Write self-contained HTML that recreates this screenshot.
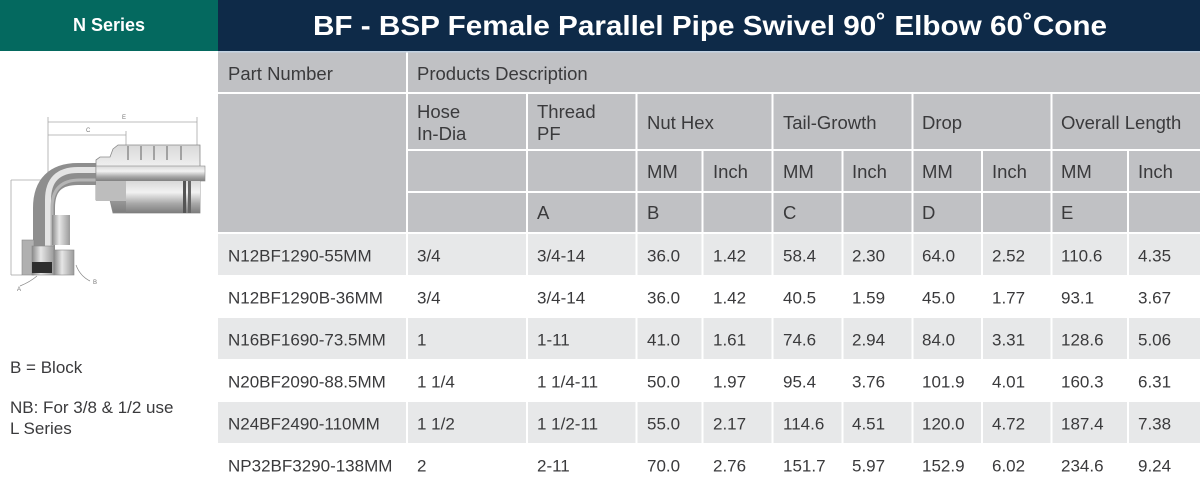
<!DOCTYPE html>
<html>
<head>
<meta charset="utf-8">
<style>
  html,body{margin:0;padding:0;background:#fff;}
  body{width:1200px;height:488px;overflow:hidden;}
  svg{display:block;}
  .h{font-family:"Liberation Sans",sans-serif;font-size:18.5px;fill:#3a3a3c;}
  .d{font-family:"Liberation Sans",sans-serif;font-size:17px;fill:#3a3a3c;}
  .n{font-family:"Liberation Sans",sans-serif;font-size:17px;fill:#3a3a3c;}
</style>
</head>
<body>
<svg width="1200" height="488" viewBox="0 0 1200 488" xmlns="http://www.w3.org/2000/svg">
  <defs>
    <linearGradient id="mv" x1="0" y1="0" x2="0" y2="1">
      <stop offset="0" stop-color="#d9d9d9"/>
      <stop offset="0.35" stop-color="#f2f2f2"/>
      <stop offset="0.7" stop-color="#a9a9a9"/>
      <stop offset="1" stop-color="#7d7d7d"/>
    </linearGradient>
    <linearGradient id="mh" x1="0" y1="0" x2="1" y2="0">
      <stop offset="0" stop-color="#8a8a8a"/>
      <stop offset="0.4" stop-color="#e6e6e6"/>
      <stop offset="1" stop-color="#9a9a9a"/>
    </linearGradient>
  </defs>

  <!-- top bands -->
  <rect x="0" y="0" width="218" height="51" fill="#04695f"/>
  <rect x="218" y="0" width="982" height="51" fill="#0e2a48"/>
  <rect x="218" y="51" width="982" height="1.5" fill="#c4d3e2"/>
  <text x="109" y="31" text-anchor="middle" font-family="Liberation Sans, sans-serif" font-weight="bold" font-size="18px" fill="#ffffff">N Series</text>
  <text x="313" y="35" textLength="794" lengthAdjust="spacingAndGlyphs" font-family="Liberation Sans, sans-serif" font-weight="bold" font-size="28px" fill="#ffffff">BF - BSP Female Parallel Pipe Swivel 90˚ Elbow 60˚Cone</text>

  <!-- header gray -->
  <rect x="218" y="52.5" width="982" height="180.5" fill="#c0c1c4"/>
  <!-- data gray rows -->
  <rect x="218" y="234" width="982" height="41" fill="#e7e8e9"/>
  <rect x="218" y="318" width="982" height="41" fill="#e7e8e9"/>
  <rect x="218" y="402" width="982" height="41" fill="#e7e8e9"/>

  <!-- grid white lines -->
  <g fill="#ffffff">
    <rect x="218" y="92" width="982" height="2"/>
    <rect x="407" y="149" width="793" height="2"/>
    <rect x="407" y="191" width="793" height="2"/>
    <rect x="218" y="232" width="982" height="2"/>
    <rect x="406" y="52.5" width="2" height="436"/>
    <rect x="526" y="93" width="2" height="395"/>
    <rect x="635.5" y="93" width="2" height="395"/>
    <rect x="771.5" y="93" width="2" height="395"/>
    <rect x="911.5" y="93" width="2" height="395"/>
    <rect x="1050.5" y="93" width="2" height="395"/>
    <rect x="701.5" y="150" width="2" height="338"/>
    <rect x="841.5" y="150" width="2" height="338"/>
    <rect x="981" y="150" width="2" height="338"/>
    <rect x="1127" y="150" width="2" height="338"/>
  </g>

  <!-- header text -->
  <text class="h" x="228" y="80">Part Number</text>
  <text class="h" x="417" y="80">Products Description</text>
  <text class="h" x="417" y="118">Hose</text>
  <text class="h" x="417" y="140">In-Dia</text>
  <text class="h" x="537" y="118">Thread</text>
  <text class="h" x="537" y="140">PF</text>
  <text class="h" x="647" y="129">Nut Hex</text>
  <text class="h" x="783" y="129">Tail-Growth</text>
  <text class="h" x="922" y="129">Drop</text>
  <text class="h" x="1061" y="129">Overall Length</text>
  <text class="h" x="647" y="178">MM</text>
  <text class="h" x="713" y="178">Inch</text>
  <text class="h" x="783" y="178">MM</text>
  <text class="h" x="852" y="178">Inch</text>
  <text class="h" x="922" y="178">MM</text>
  <text class="h" x="992" y="178">Inch</text>
  <text class="h" x="1061" y="178">MM</text>
  <text class="h" x="1138" y="178">Inch</text>
  <text class="h" x="537" y="219">A</text>
  <text class="h" x="647" y="219">B</text>
  <text class="h" x="783" y="219">C</text>
  <text class="h" x="922" y="219">D</text>
  <text class="h" x="1061" y="219">E</text>

  <!-- data rows -->
  <g class="d">
    <text class="d" x="228" y="261.5">N12BF1290-55MM</text>
    <text class="d" x="417" y="261.5">3/4</text>
    <text class="d" x="537" y="261.5">3/4-14</text>
    <text class="d" x="647" y="261.5">36.0</text>
    <text class="d" x="713" y="261.5">1.42</text>
    <text class="d" x="783" y="261.5">58.4</text>
    <text class="d" x="852" y="261.5">2.30</text>
    <text class="d" x="922" y="261.5">64.0</text>
    <text class="d" x="992" y="261.5">2.52</text>
    <text class="d" x="1061" y="261.5">110.6</text>
    <text class="d" x="1138" y="261.5">4.35</text>

    <text class="d" x="228" y="303.5">N12BF1290B-36MM</text>
    <text class="d" x="417" y="303.5">3/4</text>
    <text class="d" x="537" y="303.5">3/4-14</text>
    <text class="d" x="647" y="303.5">36.0</text>
    <text class="d" x="713" y="303.5">1.42</text>
    <text class="d" x="783" y="303.5">40.5</text>
    <text class="d" x="852" y="303.5">1.59</text>
    <text class="d" x="922" y="303.5">45.0</text>
    <text class="d" x="992" y="303.5">1.77</text>
    <text class="d" x="1061" y="303.5">93.1</text>
    <text class="d" x="1138" y="303.5">3.67</text>

    <text class="d" x="228" y="345.5">N16BF1690-73.5MM</text>
    <text class="d" x="417" y="345.5">1</text>
    <text class="d" x="537" y="345.5">1-11</text>
    <text class="d" x="647" y="345.5">41.0</text>
    <text class="d" x="713" y="345.5">1.61</text>
    <text class="d" x="783" y="345.5">74.6</text>
    <text class="d" x="852" y="345.5">2.94</text>
    <text class="d" x="922" y="345.5">84.0</text>
    <text class="d" x="992" y="345.5">3.31</text>
    <text class="d" x="1061" y="345.5">128.6</text>
    <text class="d" x="1138" y="345.5">5.06</text>

    <text class="d" x="228" y="387.5">N20BF2090-88.5MM</text>
    <text class="d" x="417" y="387.5">1 1/4</text>
    <text class="d" x="537" y="387.5">1 1/4-11</text>
    <text class="d" x="647" y="387.5">50.0</text>
    <text class="d" x="713" y="387.5">1.97</text>
    <text class="d" x="783" y="387.5">95.4</text>
    <text class="d" x="852" y="387.5">3.76</text>
    <text class="d" x="922" y="387.5">101.9</text>
    <text class="d" x="992" y="387.5">4.01</text>
    <text class="d" x="1061" y="387.5">160.3</text>
    <text class="d" x="1138" y="387.5">6.31</text>

    <text class="d" x="228" y="429.5">N24BF2490-110MM</text>
    <text class="d" x="417" y="429.5">1 1/2</text>
    <text class="d" x="537" y="429.5">1 1/2-11</text>
    <text class="d" x="647" y="429.5">55.0</text>
    <text class="d" x="713" y="429.5">2.17</text>
    <text class="d" x="783" y="429.5">114.6</text>
    <text class="d" x="852" y="429.5">4.51</text>
    <text class="d" x="922" y="429.5">120.0</text>
    <text class="d" x="992" y="429.5">4.72</text>
    <text class="d" x="1061" y="429.5">187.4</text>
    <text class="d" x="1138" y="429.5">7.38</text>

    <text class="d" x="228" y="471.5">NP32BF3290-138MM</text>
    <text class="d" x="417" y="471.5">2</text>
    <text class="d" x="537" y="471.5">2-11</text>
    <text class="d" x="647" y="471.5">70.0</text>
    <text class="d" x="713" y="471.5">2.76</text>
    <text class="d" x="783" y="471.5">151.7</text>
    <text class="d" x="852" y="471.5">5.97</text>
    <text class="d" x="922" y="471.5">152.9</text>
    <text class="d" x="992" y="471.5">6.02</text>
    <text class="d" x="1061" y="471.5">234.6</text>
    <text class="d" x="1138" y="471.5">9.24</text>
  </g>

  <!-- left notes -->
  <text class="n" x="10" y="373">B = Block</text>
  <text class="n" x="10" y="413">NB: For 3/8 &amp; 1/2 use</text>
  <text class="n" x="10" y="434">L Series</text>

  <!-- fitting drawing -->
  <g stroke="#a8a8a8" stroke-width="0.8" fill="none">
    <line x1="48" y1="122" x2="197" y2="122"/>
    <line x1="48" y1="135" x2="126" y2="135"/>
    <line x1="48" y1="117" x2="48" y2="180"/>
    <line x1="197" y1="117" x2="197" y2="168"/>
    <line x1="126" y1="131" x2="126" y2="146"/>
    <line x1="11" y1="180" x2="47" y2="180"/>
    <line x1="11" y1="180" x2="11" y2="275"/>
    <line x1="11" y1="275" x2="22" y2="275"/>
  </g>
  <text x="122" y="119" font-family="Liberation Sans, sans-serif" font-size="6px" fill="#777">E</text>
  <text x="86" y="132" font-family="Liberation Sans, sans-serif" font-size="6px" fill="#777">C</text>

  <!-- pipe bend -->
  <path d="M104 174 L78 174 Q44 174 44 208 L44 250" stroke="#8e8e8e" stroke-width="22" fill="none"/>
  <path d="M104 170 L78 170 Q48 170 48 200 L48 250" stroke="#e4e4e4" stroke-width="6" fill="none"/>
  <path d="M104 180 L80 180 Q52 180 52 208 L52 250" stroke="#b5b5b5" stroke-width="3" fill="none"/>
  <rect x="52" y="215" width="18" height="30" fill="url(#mh)"/>

  <!-- ferrule -->
  <path d="M96 160 L100 157 L110 157 L113 149 L118 145 L200 145 L200 213 L113 213 L110 200 L96 200 Z" fill="url(#mv)" stroke="#8a8a8a" stroke-width="0.8"/>
  <g stroke="#8d8d8d" stroke-width="1.5">
    <line x1="128" y1="146" x2="128" y2="160"/>
    <line x1="141" y1="146" x2="141" y2="160"/>
    <line x1="154" y1="146" x2="154" y2="160"/>
    <line x1="167" y1="146" x2="167" y2="160"/>
    <line x1="181" y1="146" x2="181" y2="160"/>
  </g>
  <rect x="96" y="166" width="109" height="15" fill="url(#mv)" stroke="#8a8a8a" stroke-width="0.6"/>
  <rect x="96" y="181" width="30" height="20" fill="#bdbdbd"/>
  <rect x="126" y="181" width="74" height="32" fill="url(#mv)"/>
  <rect x="183" y="181" width="3" height="32" fill="#555"/>
  <rect x="188" y="181" width="3" height="32" fill="#666"/>

  <!-- nut -->
  <rect x="22" y="240" width="12" height="35" fill="#b0b0b0" stroke="#888" stroke-width="0.6"/>
  <rect x="32" y="246" width="22" height="29" fill="url(#mh)" stroke="#888" stroke-width="0.6"/>
  <rect x="32" y="262" width="20" height="11" fill="#2e2e2e"/>
  <rect x="54" y="250" width="20" height="25" fill="url(#mh)" stroke="#888" stroke-width="0.6"/>
  <path d="M37 276 Q30 282 20 286" stroke="#888" stroke-width="0.7" fill="none"/>
  <path d="M76 265 Q80 276 90 281" stroke="#888" stroke-width="0.7" fill="none"/>
  <text x="17" y="291" font-family="Liberation Sans, sans-serif" font-size="6px" fill="#777">A</text>
  <text x="93" y="284" font-family="Liberation Sans, sans-serif" font-size="6px" fill="#777">B</text>
</svg>
</body>
</html>
